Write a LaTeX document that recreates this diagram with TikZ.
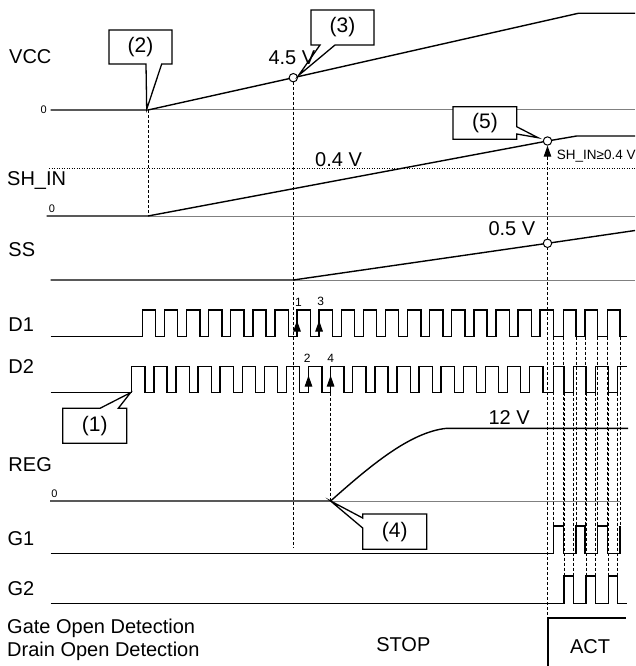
\documentclass[tikz,border=0pt]{standalone}
\usepackage{fontspec}
\setmainfont{Liberation Sans}
\usetikzlibrary{arrows.meta}
\begin{document}
\begin{tikzpicture}[x=1pt,y=-1pt,
  wave/.style={line width=1.4pt, line join=miter},
  basegray/.style={line width=1pt, draw=gray},
  guide/.style={line width=0.6pt, dash pattern=on 3pt off 2pt},
  dotline/.style={line width=0.6pt, dash pattern=on 1pt off 1.5pt},
  lbl/.style={font=\fontsize{20}{24}\selectfont, anchor=base west, inner sep=0pt},
  tiny/.style={font=\fontsize{11}{13}\selectfont, inner sep=0pt},
  num/.style={font=\fontsize{12}{14}\selectfont, inner sep=0pt},
  callout/.style={draw, fill=white, line width=1.3pt, line join=miter},
  ctext/.style={font=\fontsize{21}{25}\selectfont, inner sep=0pt},
  dotc/.style={draw, fill=white, line width=1pt, circle, minimum size=8.4pt, inner sep=0pt},
  uparrow/.style={line width=1pt, -{Triangle[length=11pt,width=7.5pt]}},
]
\useasboundingbox (0,0) rectangle (635,666);

% gray baselines
\draw[basegray] (148,110) -- (635,110);
\draw[basegray] (148,216) -- (635,216);
\draw[basegray] (293.3,280) -- (635,280);
\draw[basegray] (330.6,501) -- (620,501);
% dotted 0.4 V level
\draw[dotline] (49,168.3) -- (635,168.3);

% guide dashed lines
\draw[guide] (148,110) -- (148,216);
\draw[guide] (293.3,82) -- (293.3,548);
\draw[guide] (330.6,392.7) -- (330.6,501);
\draw[guide] (547.5,157) -- (547.5,618);
\foreach \xx in {553.3,563.3,576,585,597.7,607.3,620}
  \draw[guide] (\xx,336.7) -- (\xx,526);
\foreach \xx in {564,573.3,586,595.7,608.3,617.7}
  \draw[guide] (\xx,392.7) -- (\xx,576);

% VCC
\draw[wave] (50.7,110) -- (148,110) -- (293.3,77.7) -- (578.3,13.3) -- (635,13.3);
% SH_IN
\draw[wave] (46.7,216) -- (148,216) -- (547.5,141) -- (576.7,136) -- (635,136);
% SS
\draw[wave] (50.7,280) -- (293.3,280) -- (547.5,243.3) -- (635,230.5);
% D1
\draw[wave] (50.7,336.7) foreach \k in {0,...,18} { -- ({142.3+22.1*\k},336.7) -- ++(0,-26.7) -- ++(13.3,0) -- ++(0,26.7) }
  -- (563.3,336.7) -- (563.3,310) -- (576,310) -- (576,336.7) -- (585,336.7) -- (585,310) -- (597.7,310) -- (597.7,336.7)
  -- (607.3,336.7) -- (607.3,310) -- (620,310) -- (620,336.7) -- (627,336.7);
% D2
\draw[wave] (50.7,392.7) foreach \k in {0,...,18} { -- ({131.7+22.1*\k},392.7) -- ++(0,-26) -- ++(13.3,0) -- ++(0,26) }
  -- (553.3,392.7) -- (553.3,366.7) -- (564,366.7) -- (564,392.7) -- (573.3,392.7) -- (573.3,366.7) -- (586,366.7) -- (586,392.7)
  -- (595.7,392.7) -- (595.7,366.7) -- (608.3,366.7) -- (608.3,392.7) -- (617.7,392.7) -- (617.7,366.7) -- (627,366.7);
% REG
\draw[wave] (50,501) -- (330.6,501) .. controls (370,466) and (410,432) .. (446.7,428.3) -- (628,428.3);
% G1
\draw[wave] (50.7,553.3) -- (553.3,553.3) -- (553.3,526) -- (563.3,526) -- (563.3,553.3) -- (576,553.3) -- (576,526) -- (585,526)
  -- (585,553.3) -- (597.7,553.3) -- (597.7,526) -- (607.3,526) -- (607.3,553.3) -- (620,553.3) -- (620,526);
% G2
\draw[wave] (50.7,603.3) -- (564,603.3) -- (564,576) -- (573.3,576) -- (573.3,603.3) -- (586,603.3) -- (586,576) -- (595.7,576)
  -- (595.7,603.3) -- (608.3,603.3) -- (608.3,576) -- (617.7,576) -- (617.7,603.3) -- (627,603.3);

% edge arrows
\draw[uparrow] (297,336.7) -- (297,320.5);
\draw[uparrow] (319.1,336.7) -- (319.1,320.5);
\draw[uparrow] (308.5,392.7) -- (308.5,375.5);
\draw[uparrow] (330.6,392.7) -- (330.6,375.5);

% circles
\node[dotc] (c45) at (293.3,77.7) {};
\node[dotc] (c5) at (547.5,141) {};
\node[dotc] (c05) at (547.5,243.3) {};
\draw[uparrow] (547.5,159) -- (c5.south);

% ACT frame
\draw[line width=1.3pt] (548,666) -- (548,618) -- (626,618);

% callouts
\draw[callout] (109,30) -- (172,30) -- (172,64) -- (161.7,64) -- (146.7,109.3) -- (146,64) -- (109,64) -- cycle;
\node[ctext] (t2) at (140.5,47) {(2)};
\draw[callout] (311,10) -- (374,10) -- (374,45) -- (335,45) -- (298.5,75.5) -- (320,45) -- (311,45) -- cycle;
\node[ctext] (t3) at (342.5,27.5) {(3)};
\draw[callout] (453,106.7) -- (516.7,106.7) -- (516.7,126.7) -- (538,137.7) -- (516.7,134) -- (516.7,139.3) -- (453,139.3) -- cycle;
\node[ctext] (t5) at (485,123) {(5)};
\draw[callout] (62.7,408.3) -- (100,408.3) -- (130.5,392.7) -- (118.3,408.3) -- (126.7,408.3) -- (126.7,443.3) -- (62.7,443.3) -- cycle;
\node[ctext] (t1) at (94.7,425.8) {(1)};
\draw[callout] (362.7,514) -- (426.7,514) -- (426.7,549.3) -- (362.7,549.3) -- (362.7,528) -- (330.6,501) -- (362.7,518) -- cycle;
\node[ctext] (t4) at (394.7,531.7) {(4)};

% labels
\node[lbl] (lvcc) at (9,63.3) {VCC};
\node[lbl] (lsh) at (7,185) {SH\_IN};
\node[lbl] (lss) at (8.3,256.7) {SS};
\node[lbl] (ld1) at (8.3,331.7) {D1};
\node[lbl] (ld2) at (8.3,373.3) {D2};
\node[lbl] (lreg) at (8.3,471.7) {REG};
\node[lbl] (lg1) at (7.3,545) {G1};
\node[lbl] (lg2) at (7.3,595) {G2};
\node[lbl] (lgate) at (7,633.3) {Gate Open Detection};
\node[lbl] (ldrain) at (7,656.7) {Drain Open Detection};
\node[lbl, anchor=base] (lstop) at (403.3,651.7) {STOP};
\node[lbl, anchor=base] (lact) at (590,653.3) {ACT};

% values
\node[lbl] (v45) at (268.3,65) {4.5 V};
\node[lbl] (v04) at (315,166.7) {0.4 V};
\node[lbl] (v05) at (488.3,235.5) {0.5 V};
\node[lbl] (v12) at (488.3,424.3) {12 V};
\node[font=\fontsize{13.5}{15}\selectfont, anchor=base west, inner sep=0pt] (vsh) at (556.7,159.3) {SH\_IN≥0.4 V};

% zero marks
\node[tiny] (z1) at (43.7,109.7) {0};
\node[tiny] (z2) at (52,208.3) {0};
\node[tiny] (z3) at (54.5,493.3) {0};

% edge numbers
\node[num] (n1) at (298.5,302) {1};
\node[num] (n3) at (320.7,301.5) {3};
\node[num] (n2) at (307.3,358.3) {2};
\node[num] (n4) at (330.7,358.3) {4};
\end{tikzpicture}
\end{document}
